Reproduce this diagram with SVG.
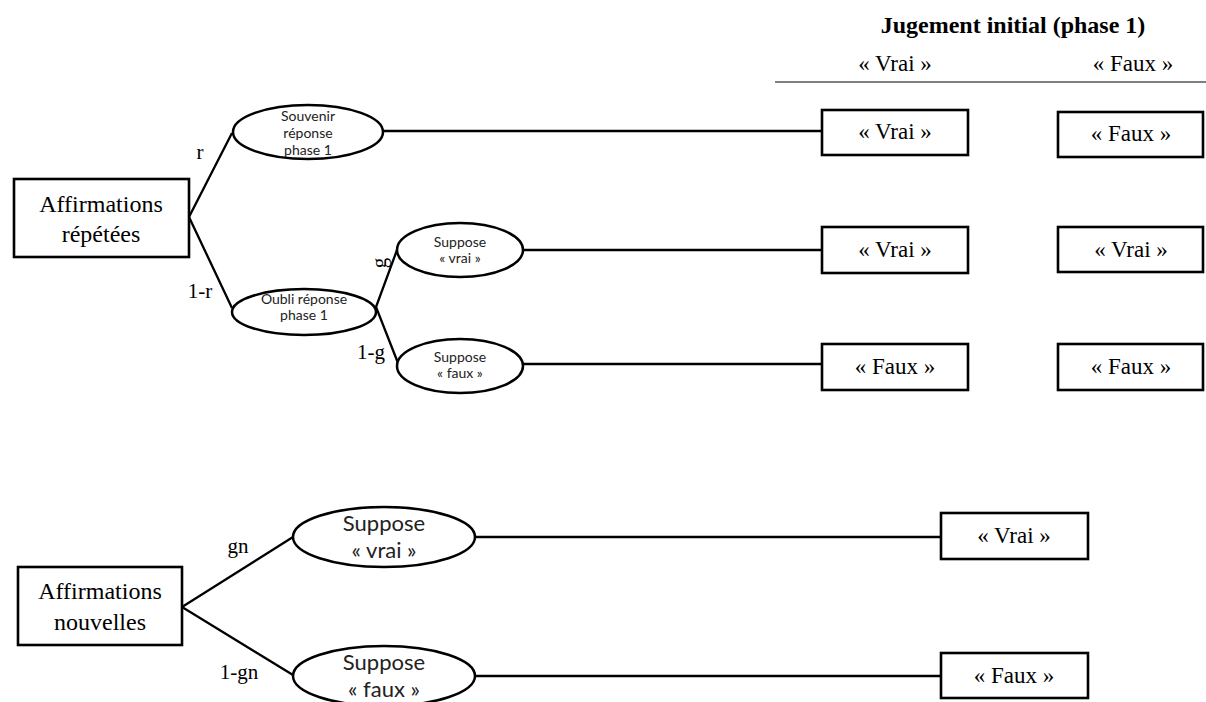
<svg xmlns="http://www.w3.org/2000/svg" width="1206" height="702" viewBox="0 0 1206 702">
  <style>
    .box { fill: #fff; stroke: #000; stroke-width: 2.6; }
    .ell { fill: #fff; stroke: #000; stroke-width: 2.5; }
    .edge { fill: none; stroke: #000; stroke-width: 2.3; }
    .serif { font-family: "Liberation Serif", "Times New Roman", serif; fill: #000; text-anchor: middle; }
    .sans { font-family: Lato, "Open Sans", "Liberation Sans", sans-serif; fill: #222; text-anchor: middle; }
    .big { font-size: 24px; }
    .res { font-size: 23px; }
    .lbl { font-size: 21px; }
    .small { font-size: 14px; }
    .mid { font-size: 22px; }
    .head { font-size: 24px; font-weight: bold; }
  </style>
  <rect width="1206" height="702" fill="#fff"/>

  <!-- column header -->
  <g id="header">
    <text class="serif head" x="1013" y="33">Jugement initial (phase 1)</text>
    <text class="serif res" x="895" y="71">« Vrai »</text>
    <text class="serif res" x="1133" y="71">« Faux »</text>
    <line x1="775" y1="82" x2="1206" y2="82" stroke="#000" stroke-width="1.2"/>
  </g>

  <!-- connectors -->
  <g id="connectors">
    <polyline class="edge" points="232,133 189,217 232,308"/>
    <polyline class="edge" points="397,250 376,307 398,363"/>
    <line class="edge" x1="383" y1="131" x2="822" y2="131"/>
    <line class="edge" x1="523" y1="250" x2="822" y2="250"/>
    <line class="edge" x1="523" y1="364" x2="822" y2="364" stroke="#333"/>
    <polyline class="edge" points="293,537 182,607 293,675"/>
    <line class="edge" x1="474" y1="537" x2="941" y2="537"/>
    <line class="edge" x1="474" y1="676" x2="941" y2="676"/>
    <text class="serif lbl" x="200" y="159">r</text>
    <text class="serif lbl" x="200" y="298">1-r</text>
    <text class="serif lbl" transform="translate(386,263) rotate(-90)">g</text>
    <text class="serif lbl" x="371" y="359">1-g</text>
    <text class="serif lbl" x="238" y="553">gn</text>
    <text class="serif lbl" x="239" y="679">1-gn</text>
  </g>

  <!-- repeated statements tree -->
  <g id="node-repetees">
    <rect class="box" x="14" y="179" width="175" height="78"/>
    <text class="serif big" x="101" y="212">Affirmations</text>
    <text class="serif big" x="101" y="242">répétées</text>
  </g>
  <g id="node-souvenir">
    <ellipse class="ell" cx="308" cy="132" rx="75" ry="27"/>
    <text class="sans small" x="308" y="121">Souvenir</text>
    <text class="sans small" x="308" y="138">réponse</text>
    <text class="sans small" x="308" y="155">phase 1</text>
  </g>
  <g id="node-oubli">
    <ellipse class="ell" cx="304" cy="312" rx="72" ry="23"/>
    <text class="sans small" x="304" y="304">Oubli réponse</text>
    <text class="sans small" x="304" y="320">phase 1</text>
  </g>
  <g id="node-suppose-vrai-1">
    <ellipse class="ell" cx="460" cy="250" rx="63" ry="27"/>
    <text class="sans small" x="460" y="247">Suppose</text>
    <text class="sans small" x="460" y="263">« vrai »</text>
  </g>
  <g id="node-suppose-faux-1">
    <ellipse class="ell" cx="460" cy="366" rx="63" ry="27"/>
    <text class="sans small" x="460" y="362">Suppose</text>
    <text class="sans small" x="460" y="378">« faux »</text>
  </g>

  <!-- outcome boxes, repeated statements -->
  <g id="out-r1-vrai">
    <rect class="box" x="822" y="110" width="146" height="45"/>
    <text class="serif res" x="895" y="139">« Vrai »</text>
  </g>
  <g id="out-r1-faux">
    <rect class="box" x="1058" y="112" width="145" height="45"/>
    <text class="serif res" x="1131" y="141">« Faux »</text>
  </g>
  <g id="out-r2-vrai">
    <rect class="box" x="822" y="227" width="146" height="46"/>
    <text class="serif res" x="895" y="257">« Vrai »</text>
  </g>
  <g id="out-r2-vrai-b">
    <rect class="box" x="1058" y="227" width="145" height="45"/>
    <text class="serif res" x="1131" y="257">« Vrai »</text>
  </g>
  <g id="out-r3-faux">
    <rect class="box" x="822" y="344" width="146" height="46"/>
    <text class="serif res" x="895" y="374">« Faux »</text>
  </g>
  <g id="out-r3-faux-b">
    <rect class="box" x="1058" y="344" width="145" height="46"/>
    <text class="serif res" x="1131" y="374">« Faux »</text>
  </g>

  <!-- new statements tree -->
  <g id="node-nouvelles">
    <rect class="box" x="18" y="567" width="164" height="78"/>
    <text class="serif big" x="100" y="599">Affirmations</text>
    <text class="serif big" x="100" y="630">nouvelles</text>
  </g>
  <g id="node-suppose-vrai-2">
    <ellipse class="ell" cx="384" cy="537" rx="91" ry="30"/>
    <text class="sans mid" x="384" y="531">Suppose</text>
    <text class="sans mid" x="384" y="558">« vrai »</text>
  </g>
  <g id="node-suppose-faux-2">
    <ellipse class="ell" cx="384" cy="676" rx="91" ry="30"/>
    <text class="sans mid" x="384" y="670">Suppose</text>
    <text class="sans mid" x="384" y="697">« faux »</text>
  </g>
  <g id="out-n-vrai">
    <rect class="box" x="941" y="513" width="147" height="46"/>
    <text class="serif res" x="1014" y="543">« Vrai »</text>
  </g>
  <g id="out-n-faux">
    <rect class="box" x="941" y="653" width="147" height="45"/>
    <text class="serif res" x="1014" y="683">« Faux »</text>
  </g>
</svg>
